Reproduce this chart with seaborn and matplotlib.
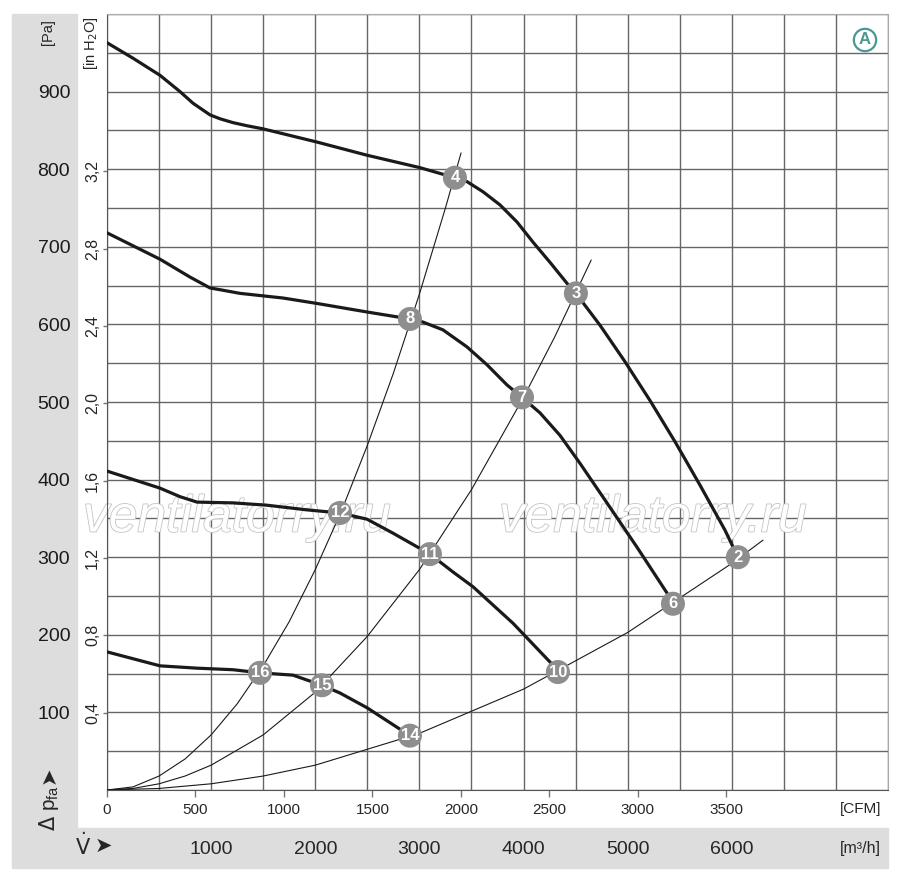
import numpy as np
import pandas as pd
import matplotlib
matplotlib.use('Agg')
import matplotlib.pyplot as plt
import matplotlib.patheffects as pe
from matplotlib.patches import Rectangle
import seaborn as sns

# fan curves, air flow in m3/h, pressure in Pa
c1_x = [0, 250, 509, 701, 826, 989, 1085, 1210, 1344, 1498, 2016, 2497, 3005, 3341, 3457, 3610,
        3774, 3937, 4091, 4254, 4417, 4503, 4734, 4974, 5214, 5454, 5694, 5934, 6059]
c1_y = [963, 943, 921, 900, 885, 870, 865, 860, 856, 852, 835, 818, 802, 789, 784, 771,
        754, 732, 706, 680, 653, 640, 599, 552, 502, 449, 393, 335, 300]
c2_x = [0, 509, 797, 989, 1114, 1277, 1690, 2016, 2497, 2909, 3034, 3226, 3457, 3649, 3841,
        3985, 4158, 4350, 4542, 4801, 5089, 5377, 5435]
c2_y = [718, 684, 661, 647, 644, 640, 634, 627, 616, 607, 603, 593, 571, 548, 522,
        506, 486, 457, 421, 370, 313, 254, 240]
c3_x = [0, 509, 701, 864, 1210, 1536, 1920, 2237, 2497, 2746, 3101, 3322, 3514, 3898, 4282, 4330]
c3_y = [411, 389, 378, 371, 370, 367, 361, 357, 349, 331, 304, 281, 262, 215, 161, 152]
c4_x = [0, 509, 864, 1210, 1469, 1786, 2064, 2237, 2497, 2909]
c4_y = [178, 160, 157, 155, 151, 148, 135, 125, 106, 70]

# system curves
sa_x = [0, 250, 500, 750, 1000, 1250, 1500, 1750, 2000, 2250, 2500, 2750, 3000, 3250, 3400]
sa_y = [0, 4, 18, 40, 71, 111, 160, 217, 284, 359, 444, 537, 639, 750, 821]
sb_x = [0, 250, 500, 750, 1000, 1500, 2000, 2500, 3000, 3500, 4000, 4300, 4650]
sb_y = [0, 2, 8, 18, 32, 71, 126, 198, 284, 387, 506, 584, 683]
sc_x = [0, 500, 1000, 1500, 2000, 3000, 4000, 5000, 6000, 6300]
sc_y = [0, 2, 8, 18, 32, 73, 130, 203, 292, 322]

# operating points
pt_lab = ['4', '3', '2', '8', '7', '6', '12', '11', '10', '16', '15', '14']
pt_x = [3341, 4503, 6059, 2909, 3985, 5435, 2237, 3101, 4330, 1469, 2064, 2909]
pt_y = [789, 640, 300, 607, 506, 240, 357, 304, 152, 151, 135, 70]

pa_ticks = [100, 200, 300, 400, 500, 600, 700, 800, 900]
inh2o_ticks = [0.4, 0.8, 1.2, 1.6, 2.0, 2.4, 2.8, 3.2]
cfm_ticks = [0, 500, 1000, 1500, 2000, 2500, 3000, 3500]
m3h_ticks = [1000, 2000, 3000, 4000, 5000, 6000]

sns.set_style('white')
plt.rcParams['font.family'] = ['Liberation Sans', 'DejaVu Sans']

fans = pd.DataFrame({
    'flow': c1_x + c2_x + c3_x + c4_x,
    'dp': c1_y + c2_y + c3_y + c4_y,
    'curve': ['c1'] * len(c1_x) + ['c2'] * len(c2_x) + ['c3'] * len(c3_x) + ['c4'] * len(c4_x),
})
systems = pd.DataFrame({
    'flow': sa_x + sb_x + sc_x,
    'dp': sa_y + sb_y + sc_y,
    'curve': ['a'] * len(sa_x) + ['b'] * len(sb_x) + ['c'] * len(sc_x),
})
points = pd.DataFrame({'flow': pt_x, 'dp': pt_y, 'lab': pt_lab})

fig = plt.figure(figsize=(9, 8.8), dpi=100)
ax = fig.add_axes([107 / 900, 90 / 880, 781 / 900, 776 / 880])

band = '#dddddd'
fig.patches.append(Rectangle((12 / 900, 52 / 880), 65 / 900, 814 / 880,
                             transform=fig.transFigure, color=band, zorder=-2))
fig.patches.append(Rectangle((12 / 900, 12 / 880), 876 / 900, 40 / 880,
                             transform=fig.transFigure, color=band, zorder=-2))

sns.lineplot(data=systems, x='flow', y='dp', units='curve', estimator=None, sort=False,
             color='#1a1a1a', lw=0.8, ax=ax, zorder=3)
sns.lineplot(data=fans, x='flow', y='dp', units='curve', estimator=None, sort=False,
             color='#1a1a1a', lw=2.3, ax=ax, zorder=4)
sns.scatterplot(data=points, x='flow', y='dp', s=300, color='#8e8e8e', edgecolor='none',
                ax=ax, zorder=5)
for lab, x, y in zip(pt_lab, pt_x, pt_y):
    ax.text(x, y, lab, ha='center', va='center', color='white', fontsize=12,
            fontweight='bold', zorder=6)

ax.set_xlim(0, 7500)
ax.set_ylim(0, 1000)
ax.set_xticks(np.arange(0, 7501, 500))
ax.set_yticks(np.arange(0, 1001, 50))
ax.set_yticklabels([str(v) if v in pa_ticks else '' for v in np.arange(0, 1001, 50)])
ax.tick_params(axis='x', labelbottom=False, length=0)
ax.tick_params(axis='y', length=0, pad=26.5, labelsize=14, labelcolor='#1a1a1a')
ax.grid(True, color='#666666', lw=1.0)
ax.set_axisbelow(True)
ax.set_xlabel('')
ax.set_ylabel('')
for side in ['top', 'right']:
    ax.spines[side].set_color('#aaaaaa')
for side in ['left', 'bottom']:
    ax.spines[side].set_color('#555555')

# inch of water scale
sec_y = ax.secondary_yaxis('left', functions=(lambda p: p / 249.09, lambda h: h * 249.09))
sec_y.set_yticks(inh2o_ticks)
sec_y.set_yticklabels([f'{v:.1f}'.replace('.', ',') for v in inh2o_ticks])
sec_y.tick_params(length=3, width=1, color='#777777', pad=2, labelsize=11.5, labelrotation=90)
for t in sec_y.get_yticklabels():
    t.set_va('center')
sec_y.spines['left'].set_visible(False)

# CFM scale
sec_x = ax.secondary_xaxis('bottom', functions=(lambda q: q / 1.699, lambda c: c * 1.699))
sec_x.set_xticks(cfm_ticks)
sec_x.tick_params(length=5, width=1, color='#777777', pad=4, labelsize=11)
sec_x.spines['bottom'].set_visible(False)

# m3/h scale in the bottom band
sec_m = ax.secondary_xaxis(-0.066, functions=(lambda q: q, lambda q: q))
sec_m.set_xticks(m3h_ticks)
sec_m.tick_params(length=0, pad=0, labelsize=14)
sec_m.spines['bottom'].set_visible(False)

# watermark
for xc in [(237 - 107) / 781, (653 - 107) / 781]:
    ax.text(xc, (790 - 518) / 776, 'ventilatorry.ru', transform=ax.transAxes,
            ha='center', va='center', fontsize=37, style='italic',
            color='white', zorder=2,
            path_effects=[pe.withStroke(linewidth=1.2, foreground='#c4c4c4')])

ax.text((865 - 107) / 781, (790 - 40) / 776, 'A', transform=ax.transAxes, ha='center',
        va='center', fontsize=12, fontweight='bold', color='#4b9893', zorder=7,
        bbox=dict(boxstyle='circle,pad=0.22', fc='white', ec='#4b9893', lw=1.6))

fig.text(48 / 900, 1 - 32 / 880, '[Pa]', rotation=90, ha='center', va='center', fontsize=10.5)
fig.text(91 / 900, 1 - 43 / 880, r'[in H$_2$O]', rotation=90, ha='center', va='center',
         fontsize=10.5)
fig.text(881 / 900, 1 - 809 / 880, '[CFM]', ha='right', va='center', fontsize=11)
fig.text(881 / 900, 1 - 848 / 880, '[m³/h]', ha='right', va='center', fontsize=11.5)
fig.text(49 / 900, 1 - 808 / 880, r'$\Delta$ p$_{\mathregular{fa}}$', rotation=90,
         ha='center', va='center', fontsize=15)
fig.text(49 / 900, 1 - 775 / 880, '➤', rotation=90, ha='center', va='center',
         fontsize=15, family='DejaVu Sans')
fig.text(83 / 900, 1 - 846 / 880, r'$\dot{\mathrm{V}}$', ha='center', va='center', fontsize=15)
fig.text(103 / 900, 1 - 846 / 880, '➤', ha='center', va='center', fontsize=15,
         family='DejaVu Sans')

fig.savefig('out.png', dpi=100)
